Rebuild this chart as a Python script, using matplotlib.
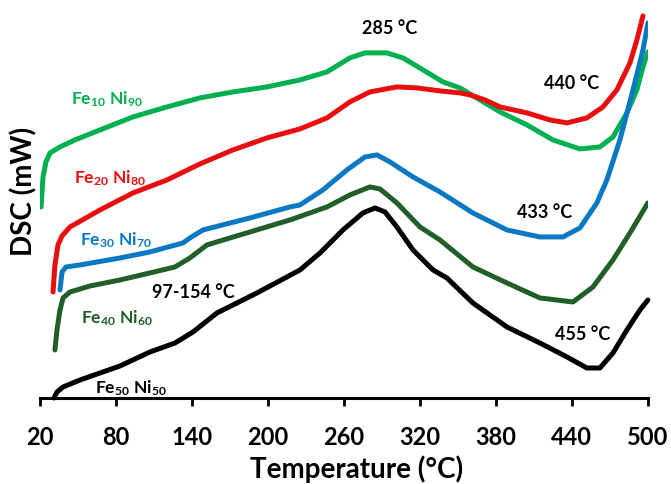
import matplotlib.pyplot as plt

plt.rcParams['font.family'] = ['Lato', 'DejaVu Sans']
plt.rcParams['font.weight'] = 'bold'
plt.rcParams['axes.labelweight'] = 'bold'
plt.rcParams['mathtext.fontset'] = 'custom'
plt.rcParams['mathtext.rm'] = 'Lato:bold'
plt.rcParams['mathtext.bf'] = 'Lato:bold'
plt.rcParams['mathtext.default'] = 'rm'

# Fe10 Ni90
t_10 = [20.8, 22.4, 24.7, 27.9, 35.8, 47.6, 67.4, 93.4, 120.3, 146.3, 172.4, 199.2, 225.3,
        246.6, 264.7, 276.6, 293.9, 306.6, 322.4, 338.2, 351.6, 383.2, 404.5, 425.0, 446.3,
        462.1, 472.4, 483.4, 491.3, 496.1, 500.0]
dsc_10 = [19.1, 22.1, 23.6, 24.5, 25.1, 25.8, 26.8, 28.1, 29.1, 30.0, 30.6, 31.1, 31.8,
          32.6, 34.0, 34.5, 34.5, 34.0, 32.8, 31.6, 31.0, 28.6, 27.3, 25.8, 24.9,
          25.1, 26.1, 28.5, 30.8, 33.1, 34.6]

# Fe20 Ni80
t_20 = [30.3, 31.8, 34.2, 37.4, 43.7, 67.4, 93.4, 120.3, 146.3, 172.4, 199.2, 225.3, 246.6,
        264.7, 280.5, 301.8, 317.6, 335.8, 351.6, 359.5, 371.3, 383.2, 404.5, 422.6, 436.1,
        451.8, 464.5, 475.5, 485.8, 491.3, 496.1]
dsc_20 = [10.6, 13.3, 15.3, 16.2, 17.1, 18.8, 20.5, 21.8, 23.4, 24.8, 26.0, 26.9, 28.0,
          29.6, 30.6, 31.1, 31.0, 30.7, 30.5, 30.3, 29.8, 29.1, 28.5, 27.8, 27.5,
          28.0, 29.1, 30.8, 33.5, 35.8, 38.2]

# Fe30 Ni70
t_30 = [35.8, 37.4, 40.5, 51.6, 83.2, 106.8, 132.9, 138.4, 148.7, 185.8, 217.4, 225.3,
        243.4, 262.4, 276.6, 286.1, 296.3, 314.5, 335.8, 361.8, 388.7, 414.7, 432.9,
        446.3, 459.7, 467.6, 477.9, 488.2, 496.1, 500.0]
dsc_30 = [10.8, 12.6, 13.1, 13.3, 14.0, 14.6, 15.5, 16.0, 16.8, 18.0, 19.1, 19.3,
          20.8, 22.8, 24.1, 24.3, 23.6, 22.1, 20.6, 18.5, 16.8, 16.1, 16.1,
          17.0, 19.5, 21.8, 25.8, 30.8, 34.8, 37.5]

# Fe40 Ni60
t_40 = [31.8, 33.4, 35.8, 38.2, 43.7, 59.5, 83.2, 106.8, 126.6, 138.4, 151.8, 170.0,
        185.8, 217.4, 246.6, 264.7, 280.5, 288.4, 301.8, 320.0, 335.8, 361.8, 388.7,
        414.7, 440.8, 456.6, 472.4, 485.8, 500.0]
dsc_40 = [4.8, 6.8, 8.8, 10.0, 10.6, 11.2, 11.8, 12.5, 13.1, 14.0, 15.3, 16.0,
          16.6, 17.8, 19.1, 20.3, 21.1, 20.9, 19.5, 17.1, 15.8, 13.1, 11.5,
          10.0, 9.6, 11.1, 13.8, 16.5, 19.5]

# Fe50 Ni50
t_50 = [31.1, 33.4, 38.2, 51.6, 67.4, 83.2, 106.8, 126.6, 140.8, 159.7, 191.3, 225.3,
        241.1, 259.2, 275.0, 284.5, 292.4, 301.8, 314.5, 330.3, 341.3, 361.8, 388.7,
        414.7, 436.1, 451.8, 462.1, 472.4, 483.4, 493.7, 500.0]
dsc_50 = [0.0, 0.6, 1.1, 1.8, 2.5, 3.2, 4.6, 5.5, 6.6, 8.5, 10.5, 12.8,
          14.5, 16.8, 18.5, 19.0, 18.6, 17.1, 14.8, 12.8, 12.0, 9.5, 7.1,
          5.5, 4.1, 3.0, 3.0, 4.5, 6.8, 8.8, 9.8]

x_ticks = [20, 80, 140, 200, 260, 320, 380, 440, 500]

fig = plt.figure(figsize=(6.71, 4.84), dpi=100)
ax = fig.add_axes([0.0596, 0.1777, 0.906, 0.806])

lw = 3.6
estilo = dict(lw=lw, solid_capstyle='round', solid_joinstyle='round')
ax.plot(t_10, dsc_10, color='#00B050', **estilo)
ax.plot(t_20, dsc_20, color='#E80E10', **estilo)
ax.plot(t_30, dsc_30, color='#0A78C2', **estilo)
ax.plot(t_40, dsc_40, color='#215E28', **estilo)
ax.plot(t_50, dsc_50, color='black', clip_on=False, **estilo)

# etiquetas de las aleaciones
fs = 12.5
ax.text(72.9, 29.9, 'Fe$_{10}$ Ni$_{90}$', color='#00B050', fontsize=fs, ha='center', va='center')
ax.text(75.3, 22.0, 'Fe$_{20}$ Ni$_{80}$', color='#E80E10', fontsize=fs, ha='center', va='center')
ax.text(80.0, 15.8, 'Fe$_{30}$ Ni$_{70}$', color='#0A78C2', fontsize=fs, ha='center', va='center')
ax.text(80.8, 8.0, 'Fe$_{40}$ Ni$_{60}$', color='#215E28', fontsize=fs, ha='center', va='center')
ax.text(91.8, 1.0, 'Fe$_{50}$ Ni$_{50}$', color='black', fontsize=fs, ha='center', va='center')

# temperaturas de los picos
fs2 = 13
ax.text(140.8, 10.5, '97-154 °C', fontsize=fs2, ha='center', va='center')
ax.text(296.3, 36.9, '285 °C', fontsize=fs2, ha='center', va='center')
ax.text(440.0, 31.4, '440 °C', fontsize=fs2, ha='center', va='center')
ax.text(418.7, 18.5, '433 °C', fontsize=fs2, ha='center', va='center')
ax.text(448.7, 6.3, '455 °C', fontsize=fs2, ha='center', va='center')

ax.set_xlim(20, 500)
ax.set_ylim(0, 39)
ax.set_xticks(x_ticks)
ax.set_yticks([])
ax.tick_params(axis='x', direction='out', length=6, width=2, labelsize=17, pad=14)
for s in ['top', 'right', 'left']:
    ax.spines[s].set_visible(False)
ax.spines['bottom'].set_linewidth(2.2)

ax.set_xlabel('Temperature (°C)', fontsize=20)
ax.xaxis.set_label_coords(0.52, -0.148)
ax.set_ylabel('DSC (mW)', fontsize=20)
ax.yaxis.set_label_coords(-0.004, 0.53)

fig.savefig('out.png', dpi=100)
